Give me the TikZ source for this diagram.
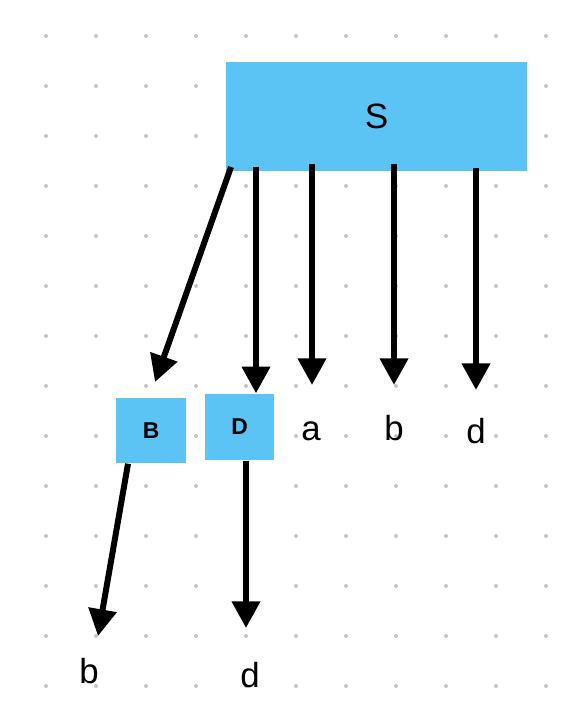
\documentclass[tikz,border=0pt]{standalone}
\usepackage{fontspec}
\setmainfont{Liberation Sans}
\usepackage{tikz}
\usetikzlibrary{arrows.meta}
\definecolor{boxblue}{HTML}{5BC4F5}
\definecolor{dotgray}{HTML}{C4C4C4}

\begin{document}
\begin{tikzpicture}[x=0.01cm,y=-0.01cm,
    blk/.style={fill=boxblue,draw=none,inner sep=0pt},
    lbl/.style={anchor=base,inner sep=0pt,font=\fontsize{9.9}{12}\selectfont},
    arr/.style={line width=1.7pt,-{Triangle[length=7.6pt,width=7.8pt]}}]
    \useasboundingbox (0,0) rectangle (582,710);
    % Dot grid
    \foreach \i in {0,...,10} \foreach \j in {0,...,13} {
        \fill[dotgray] (46+50*\i,36+50*\j) circle[radius=0.02cm];
    }
    % Blocks
    \node[blk,minimum width=3.01cm,minimum height=1.09cm,
          font=\fontsize{10}{12}\selectfont] (S) at (376.5,116.5) {S};
    \node[blk,minimum width=0.70cm,minimum height=0.65cm,
          font=\fontsize{6.5}{8}\selectfont\bfseries] (B) at (151,430.5) {B};
    \node[blk,minimum width=0.69cm,minimum height=0.66cm,
          font=\fontsize{6.5}{8}\selectfont\bfseries] (D) at (239.5,427) {D};
    % Terminals
    \node[lbl] (a1) at (311,440) {a};
    \node[lbl] (b1) at (394,440) {b};
    \node[lbl] (d1) at (476,443) {d};
    \node[lbl] (b2) at (89,683) {b};
    \node[lbl] (d2) at (250,687) {d};
    % Arrow ends
    \coordinate (s0) at (231,167);
    \coordinate (tB) at (155,382);
    \coordinate (s1) at (256,167);
    \coordinate (ta) at (312,385);
    \coordinate (tb) at (394,385);
    \coordinate (td) at (476,390);
    \coordinate (tb2) at (98,636);
    \coordinate (td2) at (246,628);
    % Arrows
    \draw[arr] (s0) -- (tB);
    \draw[arr] (s1) -- (s1 |- D.north);
    \draw[arr] (S.south -| ta) ++(0,-8) -- (ta);
    \draw[arr] (S.south -| tb) ++(0,-8) -- (tb);
    \draw[arr] (S.south -| td) ++(0,-4) -- (td);
    \draw[arr] (B.south) ++(-23,0) -- (tb2);
    \draw[arr] (D.south) ++(6.5,0) -- (td2);
\end{tikzpicture}
\end{document}
